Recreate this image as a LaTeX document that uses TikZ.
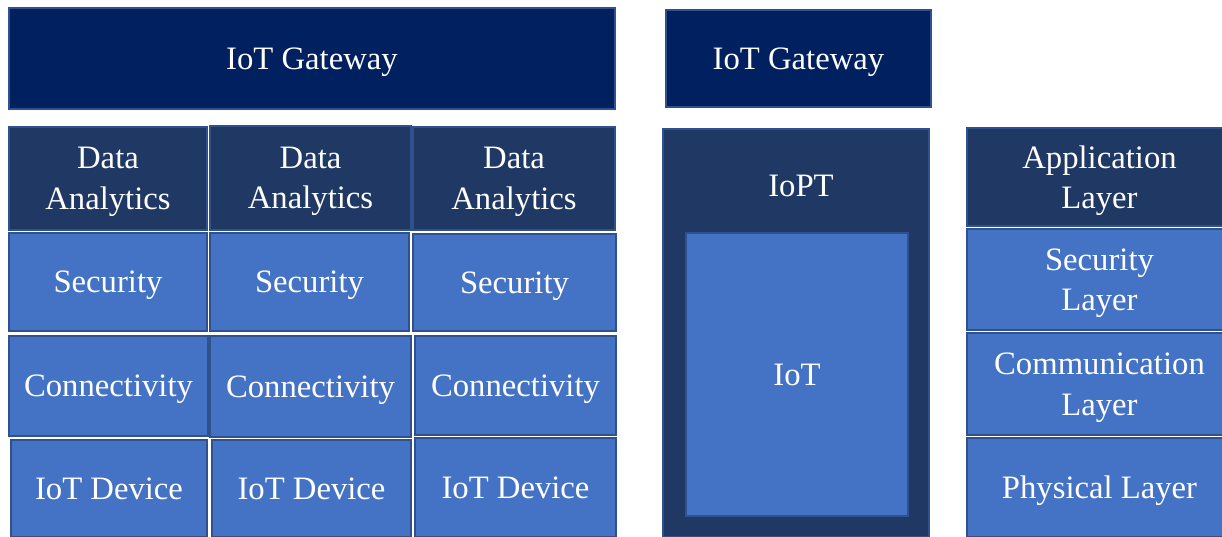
\documentclass[tikz,border=0pt]{standalone}
\usepackage{fontspec}
\setmainfont{Liberation Serif}
\usepackage{tikz}
\usetikzlibrary{positioning}
\usepackage{xcolor}

\definecolor{gatenavy}{HTML}{002060}
\definecolor{darkblue}{HTML}{203864}
\definecolor{midblue}{HTML}{4472C4}
\definecolor{edgeblue}{HTML}{2F528F}

\tikzset{
  box/.style={draw=edgeblue, line width=0.8pt, text=white, align=center, inner sep=0pt,
    text depth=-3.5pt, font=\fontsize{18.6}{23}\selectfont},
  gatebox/.style={box, fill=gatenavy},
  darkbox/.style={box, fill=darkblue},
  lightbox/.style={box, fill=midblue}
}

\begin{document}
\begin{tikzpicture}
  \useasboundingbox (0,0) rectangle (24.44,10.74);

  % gateways
  \node[gatebox, minimum width=12.12cm, minimum height=2.02cm] (gatewayA) at (6.24,9.57) {IoT Gateway};
  \node[gatebox, minimum width=5.30cm, minimum height=1.94cm] (gatewayB) at (15.97,9.57) {IoT Gateway};

  % first column
  \node[darkbox, minimum width=3.96cm, minimum height=2.06cm] (analyticsA) at (2.16,7.17) {Data\\Analytics};
  \node[lightbox, minimum width=3.96cm, minimum height=1.96cm] (securityA) at (2.16,5.10) {Security};
  \node[lightbox, minimum width=3.98cm, minimum height=2.00cm] (connectA) at (2.17,3.02) {Connectivity};
  \node[lightbox, minimum width=3.92cm, minimum height=1.94cm] (deviceA) at (2.18,0.97) {IoT Device};

  % second column
  \node[darkbox, minimum width=4.02cm, minimum height=2.08cm] (analyticsB) at (6.21,7.18) {Data\\Analytics};
  \node[lightbox, minimum width=3.98cm, minimum height=1.96cm] (securityB) at (6.19,5.10) {Security};
  \node[lightbox, minimum width=4.02cm, minimum height=2.02cm] (connectB) at (6.21,3.01) {Connectivity};
  \node[lightbox, minimum width=3.98cm, minimum height=1.94cm] (deviceB) at (6.23,0.97) {IoT Device};

  % third column
  \node[darkbox, minimum width=4.04cm, minimum height=2.06cm] (analyticsC) at (10.28,7.17) {Data\\Analytics};
  \node[lightbox, minimum width=4.06cm, minimum height=1.94cm] (securityC) at (10.29,5.09) {Security};
  \node[lightbox, minimum width=4.02cm, minimum height=1.98cm] (connectC) at (10.31,3.03) {Connectivity};
  \node[lightbox, minimum width=4.02cm, minimum height=1.98cm] (deviceC) at (10.31,0.99) {IoT Device};

  % iopt block
  \node[darkbox, minimum width=5.32cm, minimum height=8.16cm] (iopt) at (15.92,4.08) {};
  \node[text=white, font=\fontsize{18.6}{23}\selectfont] (ioptlabel) at (16.02,7.02) {IoPT};
  \node[lightbox, minimum width=4.44cm, minimum height=5.66cm] (iot) at (15.94,3.25) {IoT};

  % layers
  \node[darkbox, minimum width=5.30cm, minimum height=1.96cm] (appl) at (21.99,7.20) {Application\\Layer};
  \node[lightbox, minimum width=5.30cm, minimum height=2.02cm] (secl) at (21.99,5.15) {Security\\Layer};
  \node[lightbox, minimum width=5.30cm, minimum height=2.04cm] (coml) at (21.99,3.06) {Communication\\Layer};
  \node[lightbox, minimum width=5.30cm, minimum height=1.98cm] (phyl) at (21.99,0.99) {Physical Layer};
\end{tikzpicture}
\end{document}
